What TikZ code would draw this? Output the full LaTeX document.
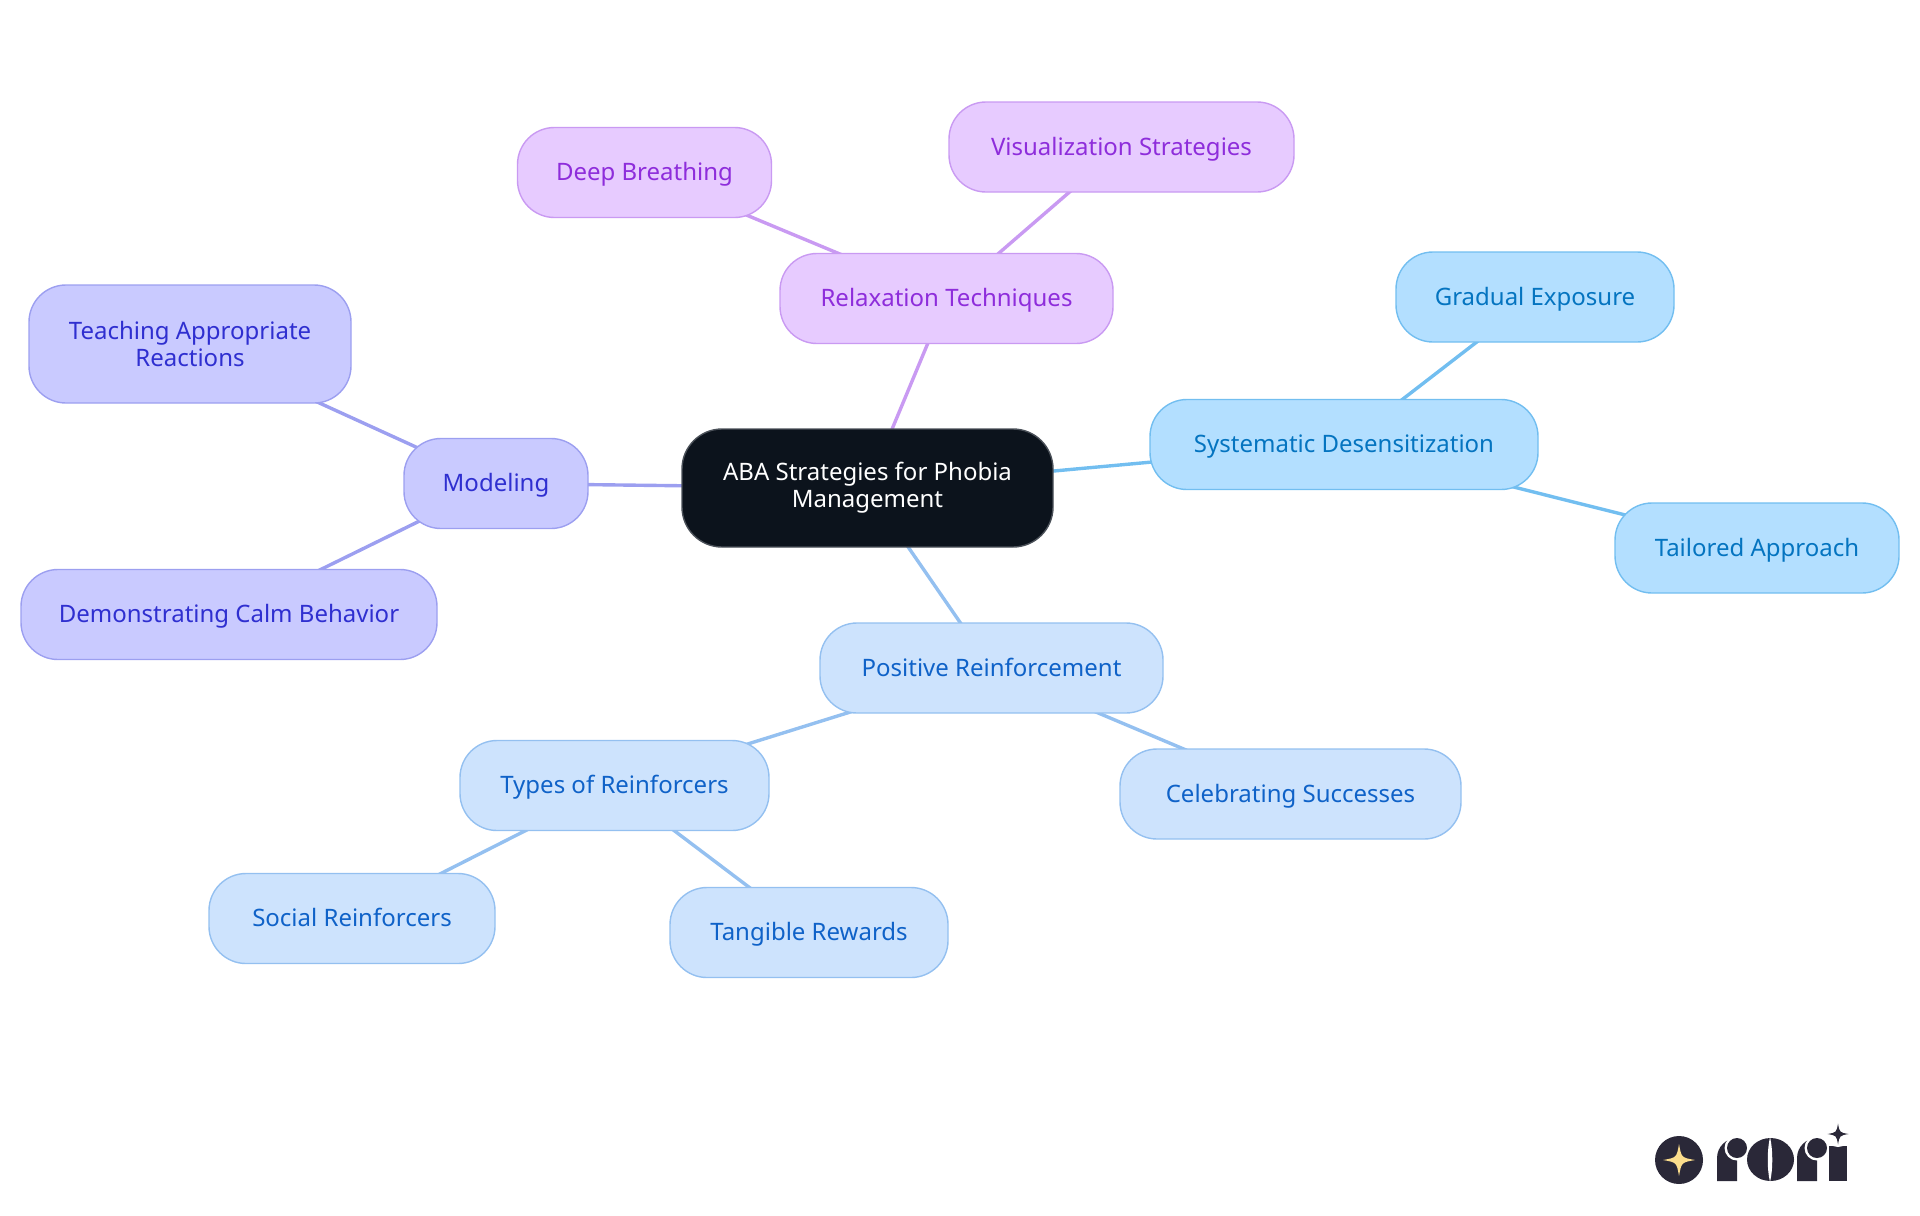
\documentclass[tikz,border=0pt]{standalone}
\usepackage{fontspec}
\usetikzlibrary{backgrounds}
\setmainfont{Noto Sans}
\definecolor{rootfill}{HTML}{0C131C}
\definecolor{rootline}{HTML}{4A5058}
\definecolor{relaxfill}{HTML}{E7CBFF}
\definecolor{relaxline}{HTML}{C99AF2}
\definecolor{relaxtext}{HTML}{8E2DDB}
\definecolor{modelfill}{HTML}{C9CAFF}
\definecolor{modelline}{HTML}{9C9FF0}
\definecolor{modeltext}{HTML}{2F2FD0}
\definecolor{reinffill}{HTML}{CDE3FD}
\definecolor{reinfline}{HTML}{94C0F0}
\definecolor{reinftext}{HTML}{0F62C8}
\definecolor{desensfill}{HTML}{B3DFFF}
\definecolor{desensline}{HTML}{72BEF0}
\definecolor{desenstext}{HTML}{0474C0}
\definecolor{logodark}{HTML}{2A2838}
\definecolor{logogold}{HTML}{FBDD8C}
\tikzset{
  mapnode/.style={rounded corners=18.5pt, line width=.7pt, inner sep=0pt, align=center,
    text height=9.8pt, text depth=1.4pt, font=\fontsize{12}{13.5}\selectfont},
  twolines/.style={text height=, text depth=},
  rootnode/.style={mapnode, rounded corners=20pt, fill=rootfill, draw=rootline, text=white},
  relaxnode/.style={mapnode, fill=relaxfill, draw=relaxline, text=relaxtext},
  modelnode/.style={mapnode, fill=modelfill, draw=modelline, text=modeltext},
  reinfnode/.style={mapnode, fill=reinffill, draw=reinfline, text=reinftext},
  desensnode/.style={mapnode, fill=desensfill, draw=desensline, text=desenstext},
  link/.style={line width=1.7pt}
}
% four pointed star of the logo
\newcommand{\logostar}[4]{\fill[#4] (#1-#3,#2) .. controls (#1-.15*#3,#2-.15*#3) .. (#1,#2-#3)
  .. controls (#1+.15*#3,#2-.15*#3) .. (#1+#3,#2) .. controls (#1+.15*#3,#2+.15*#3) .. (#1,#2+#3)
  .. controls (#1-.15*#3,#2+.15*#3) .. (#1-#3,#2) -- cycle;}
\begin{document}
\begin{tikzpicture}[x=.5pt,y=-.5pt]
\useasboundingbox (0,0) rectangle (1920,1215);
\node[rootnode, twolines, minimum width=185.5pt, minimum height=59pt] (root) at (867.5,488) {ABA Strategies for Phobia\\Management};
% relaxation branch
\node[relaxnode, minimum width=166.5pt, minimum height=45pt] (relax) at (946.5,298.5) {Relaxation Techniques};
\node[relaxnode, minimum width=127pt, minimum height=45pt] (breath) at (644.5,172.5) {Deep Breathing};
\node[relaxnode, minimum width=172.5pt, minimum height=45pt] (visual) at (1121.5,147) {Visualization Strategies};
% desensitization branch
\node[desensnode, minimum width=194pt, minimum height=45pt] (desens) at (1344,444.5) {Systematic Desensitization};
\node[desensnode, minimum width=139pt, minimum height=45pt] (gradual) at (1535,297) {Gradual Exposure};
\node[desensnode, minimum width=142pt, minimum height=45pt] (tailored) at (1757,548) {Tailored Approach};
% reinforcement branch
\node[reinfnode, minimum width=171.5pt, minimum height=45pt] (positive) at (991.5,668) {Positive Reinforcement};
\node[reinfnode, minimum width=170.5pt, minimum height=45pt] (success) at (1290.5,794) {Celebrating Successes};
\node[reinfnode, minimum width=154.5pt, minimum height=45pt] (types) at (614.5,785.5) {Types of Reinforcers};
\node[reinfnode, minimum width=143pt, minimum height=45pt] (social) at (352,918.5) {Social Reinforcers};
\node[reinfnode, minimum width=139pt, minimum height=45pt] (tangible) at (809,932.5) {Tangible Rewards};
% modeling branch
\node[modelnode, minimum width=92pt, minimum height=45pt] (model) at (496,483.5) {Modeling};
\node[modelnode, twolines, minimum width=161pt, minimum height=59pt] (teach) at (190,344) {Teaching Appropriate\\Reactions};
\node[modelnode, minimum width=208pt, minimum height=45pt] (demo) at (229,614.5) {Demonstrating Calm Behavior};
% links run behind the boxes
\begin{scope}[on background layer]
\draw[link, relaxline] (root.center)--(relax.center);
\draw[link, relaxline] (relax.center)--(breath.center);
\draw[link, relaxline] (relax.center)--(visual.center);
\draw[link, desensline] (root.center)--(desens.center);
\draw[link, desensline] (desens.center)--(gradual.center);
\draw[link, desensline] (desens.center)--(tailored.center);
\draw[link, reinfline] (root.center)--(positive.center);
\draw[link, reinfline] (positive.center)--(success.center);
\draw[link, reinfline] (positive.center)--(types.center);
\draw[link, reinfline] (types.center)--(social.center);
\draw[link, reinfline] (types.center)--(tangible.center);
\draw[link, modelline] (root.center)--(model.center);
\draw[link, modelline] (model.center)--(teach.center);
\draw[link, modelline] (model.center)--(demo.center);
\end{scope}
% logo
\fill[logodark] (1679,1160) circle (24);
\logostar{1679}{1160}{16}{logogold}
\fill[logodark] (1717,1181)--(1717,1158) arc (180:270:20)--(1737,1181)--cycle;
\fill[white] (1737,1148) circle (12.5);
\fill[logodark] (1737,1148) circle (10);
\fill[logodark] (1770.5,1159.5) ellipse (23.5 and 21.5);
\fill[white] (1770,1137) .. controls (1767,1150) and (1767,1170) .. (1770,1182) .. controls (1773,1170) and (1773,1150) .. (1770,1137)--cycle;
\fill[logodark] (1797,1181)--(1797,1158) arc (180:270:20)--(1817,1181)--cycle;
\fill[white] (1817,1148) circle (12.5);
\fill[logodark] (1817,1148) circle (10);
\fill[logodark] (1829,1146) rectangle (1847,1181);
\fill[white] (1838,1134) circle (13);
\logostar{1838}{1134}{10.5}{logodark}
\end{tikzpicture}
\end{document}
